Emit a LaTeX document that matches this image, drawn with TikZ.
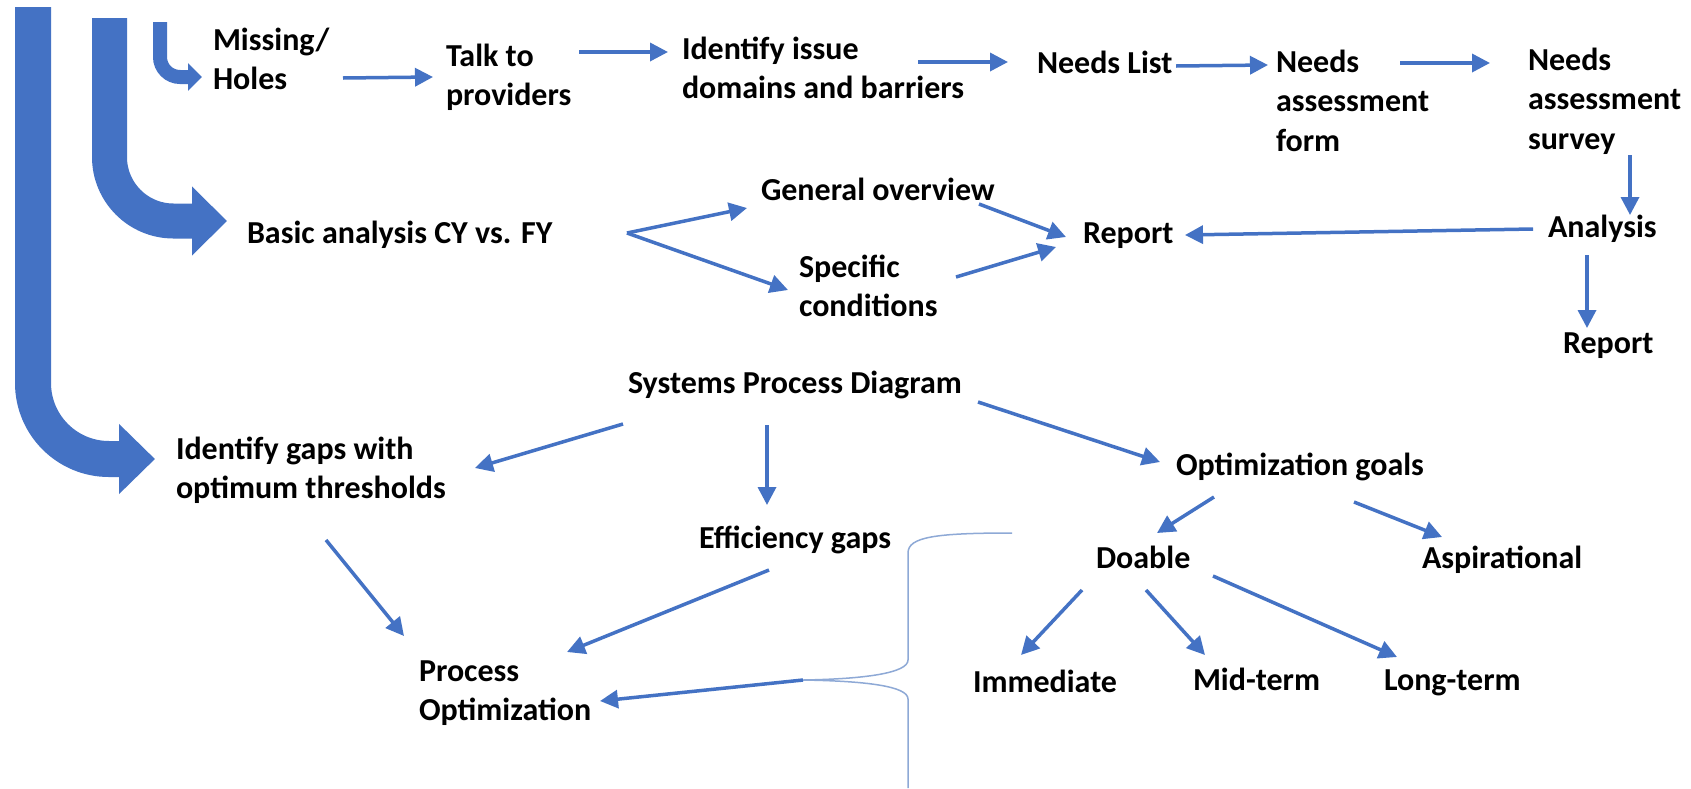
\documentclass[tikz,border=0pt]{standalone}
\usepackage{fontspec}
\setmainfont{Carlito}
\usetikzlibrary{arrows.meta}
\definecolor{flowblue}{HTML}{4472C4}
\definecolor{bracecol}{HTML}{8EA9D6}
\newcommand\txtlines[1]{\begin{tabular}[t]{@{}l@{}}#1\end{tabular}}

\begin{document}
\begin{tikzpicture}[x=1pt,y=-1pt,
  lbl/.style={anchor=base west, inner sep=0pt, outer sep=0pt,
    font=\fontsize{32}{39.5}\selectfont\bfseries},
  flow/.style={draw=flowblue, line width=3.5pt,
    -{Triangle[length=18pt,width=18pt]}},
  bigflow/.style={draw=flowblue, line cap=butt}]

\useasboundingbox (0,0) rectangle (1691,788);
\fill[white] (0,0) rectangle (1691,788);

% ---- labels ----
\node[lbl] (missing)   at (213,50)  {\txtlines{Missing/\\Holes}};
\node[lbl] (talk)      at (446,66)  {\txtlines{Talk to\\providers}};
\node[lbl] (identify)  at (682,59)  {\txtlines{Identify issue\\domains and barriers}};
\node[lbl] (needslist) at (1037,73) {Needs List};
\node[lbl] (form)      at (1276,72) {\txtlines{Needs\\assessment\\form}};
\node[lbl] (survey)    at (1528,70) {\txtlines{Needs\\assessment\\survey}};
\node[lbl] (analysis)  at (1548,237) {Analysis};
\node[lbl] (reportR)   at (1563,353) {Report};
\node[lbl] (basic)     at (247,243) {Basic analysis CY vs. FY};
\node[lbl] (general)   at (761,200) {General overview};
\node[lbl] (specific)  at (799,277) {\txtlines{Specific\\conditions}};
\node[lbl] (reportM)   at (1083,243) {Report};
\node[lbl] (systems)   at (628,393) {Systems Process Diagram};
\node[lbl] (gaps)      at (176,459) {\txtlines{Identify gaps with\\optimum thresholds}};
\node[lbl] (eff)       at (699,548) {Efficiency gaps};
\node[lbl] (procopt)   at (419,681) {\txtlines{Process\\Optimization}};
\node[lbl] (optgoals)  at (1176,475) {Optimization goals};
\node[lbl] (doable)    at (1096,568) {Doable};
\node[lbl] (aspir)     at (1422,568) {Aspirational};
\node[lbl] (immediate) at (973,692) {Immediate};
\node[lbl] (midterm)   at (1193,690) {Mid-term};
\node[lbl] (longterm)  at (1384,690) {Long-term};

% ---- wide bent arrows on the left ----
\coordinate (srcA) at (33,7);
\coordinate (srcB) at (109.5,18);
\coordinate (srcC) at (160,22);
\draw[bigflow, line width=36pt, rounded corners=76pt,
  -{Triangle[length=36pt,width=68pt]}] (srcA) |- ([shift={(-21,0)}]gaps.base west |- 0,459);
\draw[bigflow, line width=35pt, rounded corners=64pt,
  -{Triangle[length=35pt,width=67pt]}] (srcB) |- ([shift={(-20,0)}]basic.base west |- 0,221);
\draw[bigflow, line width=14pt, rounded corners=20pt,
  -{Triangle[length=14pt,width=27pt]}] (srcC) |- ([shift={(-11,0)}]missing.base west |- 0,77);

% ---- top row ----
\draw[flow] ([shift={(130,28)}]missing.base west) -- ([shift={(-13,11)}]talk.base west);
\draw[flow] ([shift={(133,-14)}]talk.base west) -- ([shift={(-14,-7)}]identify.base west);
\draw[flow] ([shift={(236,3)}]identify.base west) -- ([shift={(-29,-11)}]needslist.base west);
\draw[flow] ([shift={(139,-7)}]needslist.base west) -- ([shift={(-8,-7)}]form.base west);
\draw[flow] ([shift={(124,-9)}]form.base west) -- ([shift={(-38,-7)}]survey.base west);
\draw[flow] ([shift={(102,85)}]survey.base west) -- ([shift={(82,-22)}]analysis.base west);
\draw[flow] ([shift={(39,18)}]analysis.base west) -- ([shift={(24,-25)}]reportR.base west);
\draw[flow] ([shift={(-15,-8)}]analysis.base west) -- ([shift={(102,-8)}]reportM.base west);

% ---- second row ----
\draw[flow] ([shift={(380,-10)}]basic.base west) -- ([shift={(-14,8)}]general.base west);
\draw[flow] ([shift={(380,-10)}]basic.base west) -- ([shift={(-11,13)}]specific.base west);
\draw[flow] ([shift={(218,4)}]general.base west) -- ([shift={(-17,-6)}]reportM.base west);
\draw[flow] ([shift={(157,0)}]specific.base west) -- ([shift={(-27,4)}]reportM.base west);

% ---- systems process diagram ----
\draw[flow] ([shift={(-5,31)}]systems.base west) -- ([shift={(299,9)}]gaps.base west);
\draw[flow] ([shift={(139,32)}]systems.base west) -- ([shift={(68,-43)}]eff.base west);
\draw[flow] ([shift={(350,9)}]systems.base west) -- ([shift={(-16,-13)}]optgoals.base west);
\draw[flow] ([shift={(150,81)}]gaps.base west) -- ([shift={(-15,-45)}]procopt.base west);
\draw[flow] ([shift={(70,22)}]eff.base west) -- ([shift={(148,-29)}]procopt.base west);

% ---- brace gathering the goals ----
\coordinate (bracetip) at (803,680);
\draw[bracecol, line width=1.5pt]
  (1012,533) .. controls (935,533) and (908,537) .. (908,553) -- (908,660)
  .. controls (908,673) and (865,679) .. (bracetip)
  .. controls (865,681) and (908,686) .. (908,699) -- (908,788);
\draw[flow] (bracetip) -- ([shift={(181,20)}]procopt.base west);

% ---- optimization goals ----
\draw[flow] ([shift={(38,22)}]optgoals.base west) -- ([shift={(61,-35)}]doable.base west);
\draw[flow] ([shift={(178,27)}]optgoals.base west) -- ([shift={(20,-31)}]aspir.base west);
\draw[flow] ([shift={(-14,22)}]doable.base west) -- ([shift={(48,-37)}]immediate.base west);
\draw[flow] ([shift={(50,22)}]doable.base west) -- ([shift={(12,-35)}]midterm.base west);
\draw[flow] ([shift={(117,8)}]doable.base west) -- ([shift={(13,-33)}]longterm.base west);
\end{tikzpicture}
\end{document}
